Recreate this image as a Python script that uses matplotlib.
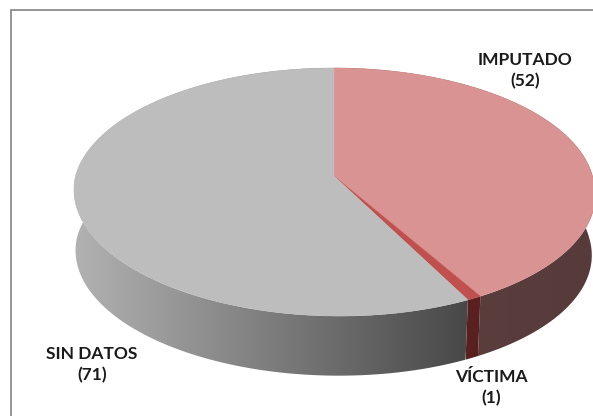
import numpy as np
import matplotlib
matplotlib.use("Agg")
import matplotlib.pyplot as plt
from matplotlib.patches import Polygon

categories = ["IMPUTADO", "VÍCTIMA", "SIN DATOS"]
values = [52, 1, 71]
top_colors = ["#d99392", "#c0504d", "#bdbdbd"]
side_colors = [("#5d4040", "#573a3a"), ("#5a2020", "#5a2020"), ("#b2b2b2", "#484848")]

W, H = 593, 416
CX, CY = 334, 176
AX_, BY, K = 258.5, 122, 0.129
DEPTH, SHRINK = 61, 0.99

fig = plt.figure(figsize=(W / 100, H / 100), dpi=100)
ax = fig.add_axes([0, 0, 1, 1])
ax.set_xlim(0, W)
ax.set_ylim(H, 0)
ax.axis("off")


def project(theta, lower=False):
    """theta: clockwise from 12 o'clock, radians. Perspective disc projection."""
    X, Y = np.sin(theta), np.cos(theta)
    d = 1 + K * Y
    u, v = AX_ * X / d, BY * Y / d
    u = u + 5 * np.clip(-v / 120, 0, None)
    if lower:
        return CX + SHRINK * u - 1, CY + DEPTH - SHRINK * v
    return CX + u, CY - v


fractions = np.array(values, float) / sum(values)
edges = np.concatenate([[0], np.cumsum(fractions)]) * 2 * np.pi

# side walls
for i in range(len(values)):
    t = np.linspace(edges[i], edges[i + 1], 300)
    x1, y1 = project(t)
    x2, y2 = project(t, True)
    pts = np.column_stack([np.r_[x1, x2[::-1]], np.r_[y1, y2[::-1]]])
    poly = Polygon(pts, closed=True, fc="none", ec="none")
    ax.add_patch(poly)
    c0 = np.array(matplotlib.colors.to_rgb(side_colors[i][0]))
    c1 = np.array(matplotlib.colors.to_rgb(side_colors[i][1]))
    x0, xe = pts[:, 0].min(), pts[:, 0].max()
    if i == 2:
        # the visible grey wall runs from the left extreme to the front edge,
        # so the ramp is stretched across that span only
        xe = x1[0]
    ramp = np.linspace(0, 1, 256)[None, :, None]
    img = c0[None, None, :] + (c1 - c0)[None, None, :] * ramp
    im = ax.imshow(img, extent=[x0, xe, pts[:, 1].max(), pts[:, 1].min()],
                   aspect="auto", zorder=2, interpolation="bilinear")
    im.set_clip_path(poly)
ax.set_xlim(0, W)
ax.set_ylim(H, 0)

# top faces
for i in range(len(values)):
    t = np.linspace(edges[i], edges[i + 1], 300)
    x, y = project(t)
    ax.add_patch(Polygon(np.column_stack([np.r_[CX, x], np.r_[CY, y]]), closed=True,
                         fc=top_colors[i], ec=top_colors[i], lw=0.3, zorder=3))

# frame
ax.plot([10.5, 10.5, W], [H, 9.5, 9.5], color="#8c8c8c", lw=1.3, zorder=1, solid_joinstyle="miter")

label_pos = [(525, 71), (491, 388), (92, 365)]
for c, v, (x, y) in zip(categories, values, label_pos):
    ax.text(x, y, f"{c}\n({v})", ha="center", va="center", family="Lato",
            fontweight="bold", fontsize=12.5, color="#1a1a1a", linespacing=1.38, zorder=5)

fig.savefig("out.png", dpi=100)
